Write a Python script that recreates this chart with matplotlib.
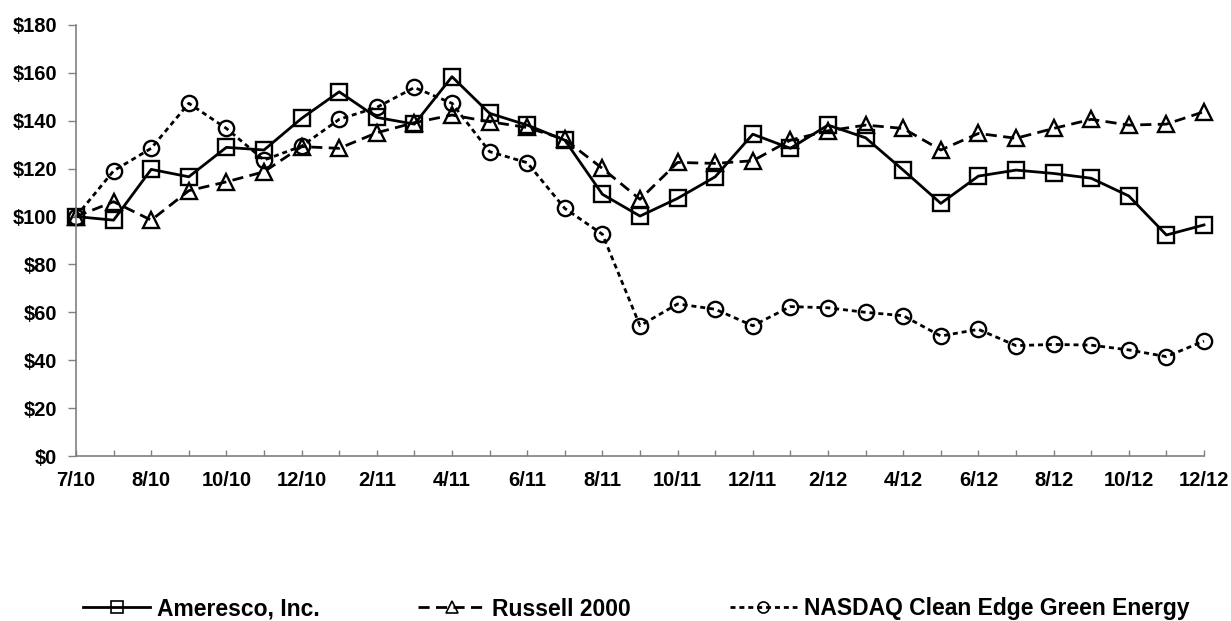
import numpy as np
import matplotlib
matplotlib.use("Agg")
import matplotlib.pyplot as plt
from matplotlib.lines import Line2D

# ---------------------------------------------------------
# DATOS (valor de $100 invertidos, 7/10 - 12/12)
# ---------------------------------------------------------
meses = ["7/10", "7/10b", "8/10", "9/10", "10/10", "11/10", "12/10", "1/11",
         "2/11", "3/11", "4/11", "5/11", "6/11", "7/11", "8/11", "9/11",
         "10/11", "11/11", "12/11", "1/12", "2/12", "3/12", "4/12", "5/12",
         "6/12", "7/12", "8/12", "9/12", "10/12", "11/12", "12/12"]

ameresco = [100, 98.5, 119.7, 116.6, 128.9, 127.8, 141.0, 152.1,
            141.4, 138.6, 158.4, 143.1, 138.2, 131.9, 109.3, 100.2,
            107.6, 116.6, 134.4, 128.5, 138.2, 132.9, 119.4, 105.5,
            116.9, 119.4, 118.0, 116.0, 108.6, 92.3, 96.5]

russell = [100, 106.2, 98.5, 110.8, 114.5, 118.7, 129.2, 128.5,
           135.0, 139.2, 142.4, 139.6, 137.2, 132.2, 120.1, 107.2,
           122.6, 122.2, 123.3, 131.9, 135.8, 138.2, 136.8, 127.8,
           134.7, 132.7, 136.8, 140.6, 138.2, 138.6, 143.8]

nasdaq = [100, 119.1, 128.5, 147.3, 136.8, 123.6, 129.4, 140.6,
          145.6, 153.9, 147.3, 127.1, 122.5, 103.4, 92.6, 54.4,
          63.5, 61.3, 54.4, 62.4, 61.9, 60.0, 58.6, 50.1,
          52.9, 46.1, 46.6, 46.3, 44.3, 41.5, 48.0]

etiquetas_x = ["7/10", "", "8/10", "", "10/10", "", "12/10", "", "2/11", "",
               "4/11", "", "6/11", "", "8/11", "", "10/11", "", "12/11", "",
               "2/12", "", "4/12", "", "6/12", "", "8/12", "", "10/12", "", "12/12"]

valores_y = [0, 20, 40, 60, 80, 100, 120, 140, 160, 180]
etiquetas_y = [f"${v}" for v in valores_y]

nombres = ["Ameresco, Inc.", "Russell 2000", "NASDAQ Clean Edge Green Energy"]

# ---------------------------------------------------------
# ESTILO
# ---------------------------------------------------------
plt.rcParams["font.family"] = ["Liberation Sans", "DejaVu Sans"]
plt.rcParams["font.weight"] = "bold"

x = np.arange(len(meses))
lw = 2.0
estilos = [
    dict(marker="s", linestyle="-", ms=12),
    dict(marker="^", dashes=(4.0, 2.3), ms=12),
    dict(marker="o", dashes=(1.8, 1.4), ms=11),
]
series = [ameresco, russell, nasdaq]

fig = plt.figure(figsize=(12.31, 6.21), dpi=100)
ax = fig.add_axes([76 / 1231, 1 - 456 / 621, (1204 - 76) / 1231, (456 - 25) / 621])

for datos, est in zip(series, estilos):
    ax.plot(x, datos, color="black", lw=lw, mfc="none", mec="black", mew=1.7,
            clip_on=False, **est)

# ---------------------------------------------------------
# EJES
# ---------------------------------------------------------
ax.set_xlim(0, len(meses) - 1)
ax.set_ylim(0, 180)
ax.set_xticks(x)
ax.set_xticklabels(etiquetas_x, fontsize=14.5, fontweight="bold")
ax.set_yticks(valores_y)
ax.set_yticklabels(etiquetas_y, fontsize=14.5, fontweight="bold")
ax.tick_params(axis="x", direction="in", length=4.3, width=1, color="#808080", pad=11)
ax.tick_params(axis="y", direction="out", length=5.8, width=1, color="#808080", pad=8)

for lado in ["top", "right"]:
    ax.spines[lado].set_visible(False)
for lado in ["left", "bottom"]:
    ax.spines[lado].set_color("#808080")
    ax.spines[lado].set_linewidth(1.2)

# ---------------------------------------------------------
# LEYENDA
# ---------------------------------------------------------
handles = [Line2D([], [], color="black", lw=lw, mfc="none", mec="black", mew=1.2,
                  **dict(est, ms=8)) for est in estilos]
fig.legend(handles, nombres, loc="center left",
           bbox_to_anchor=(83 / 1231, 1 - 609 / 621), ncol=3, frameon=False,
           handlelength=2.93, handletextpad=0.3,
           columnspacing=4.3, borderpad=0, borderaxespad=0,
           prop={"weight": "bold", "size": 16.5})

fig.savefig("out.png", dpi=100)
